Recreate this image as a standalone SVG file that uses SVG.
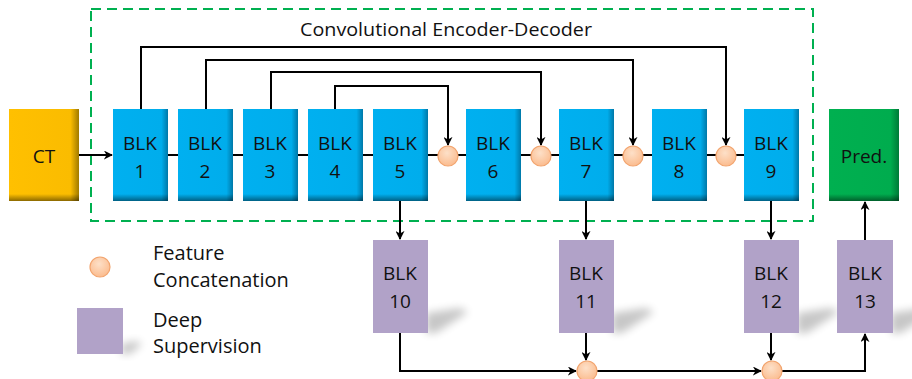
<svg xmlns="http://www.w3.org/2000/svg" width="912" height="379" viewBox="0 0 912 379">
<style>
.t{font-family:"Open Sans","Liberation Sans",sans-serif;font-size:19px;fill:#111;text-anchor:middle}
.lt{font-family:"Open Sans","Liberation Sans",sans-serif;font-size:20px;fill:#111}
.ln{fill:none;stroke:#000;stroke-width:2}
.arr{fill:none;stroke:#000;stroke-width:2;marker-end:url(#ah)}
.blue{fill:url(#gb)}
.purple{fill:#B1A2C8}
.cc{fill:url(#gc);stroke:#F2A46E;stroke-width:1.2}
.edge{fill:url(#ge)}
.sh{fill:#000;opacity:0.22}
</style>
<defs>
<marker id="ah" viewBox="0 0 10 10" refX="9" refY="5" markerWidth="9" markerHeight="9" orient="auto" markerUnits="userSpaceOnUse">
<path d="M0,0 L10,5 L0,10 L3,5 z" fill="#000"/>
</marker>
<linearGradient id="gb" x1="0" y1="0" x2="1" y2="0">
<stop offset="0" stop-color="#00B0F0"/><stop offset="0.88" stop-color="#00ADEC"/><stop offset="1" stop-color="#0078A8"/>
</linearGradient>
<linearGradient id="gg" x1="0" y1="0" x2="1" y2="0">
<stop offset="0" stop-color="#00B050"/><stop offset="0.88" stop-color="#00AC4E"/><stop offset="1" stop-color="#007A38"/>
</linearGradient>
<linearGradient id="go" x1="0" y1="0" x2="1" y2="0">
<stop offset="0" stop-color="#FFC000"/><stop offset="0.88" stop-color="#FABC00"/><stop offset="1" stop-color="#A07A00"/>
</linearGradient>
<linearGradient id="ge" x1="0" y1="0" x2="0" y2="1">
<stop offset="0" stop-color="#000" stop-opacity="0"/><stop offset="1" stop-color="#000" stop-opacity="0.45"/>
</linearGradient>
<radialGradient id="gc" cx="0.45" cy="0.35" r="0.7">
<stop offset="0" stop-color="#FDE0C8"/><stop offset="1" stop-color="#FBB98A"/>
</radialGradient>
<filter id="blur" x="-50%" y="-50%" width="200%" height="200%"><feGaussianBlur stdDeviation="4"/></filter>
</defs>

<g id="encoder-frame">
<rect x="91" y="9" width="722" height="212" fill="none" stroke="#00B050" stroke-width="2" stroke-dasharray="10,6"/>
<text class="t" x="446" y="36" textLength="292" lengthAdjust="spacingAndGlyphs">Convolutional Encoder-Decoder</text>
</g>

<g id="connectors">
<line class="arr" x1="79" y1="155" x2="112" y2="155"/>
<path class="ln" d="M168,155 H178 M233,155 H243 M298,155 H308 M363,155 H373 M428,155 H438 M458,155 H466 M521,155 H531 M551,155 H559 M614,155 H623 M643,155 H652 M707,155 H716 M736,155 H744"/>
<path class="arr" d="M141,109 V47 H726 V145"/>
<path class="arr" d="M206,109 V60 H633 V145"/>
<path class="arr" d="M271,109 V72 H541 V145"/>
<path class="arr" d="M335,109 V86 H448 V145"/>
<line class="arr" x1="400" y1="201" x2="400" y2="239"/>
<line class="arr" x1="586" y1="201" x2="586" y2="239"/>
<line class="arr" x1="771" y1="201" x2="771" y2="239"/>
<path class="arr" d="M400,333 V371 H576"/>
<line class="arr" x1="586" y1="333" x2="586" y2="360"/>
<line class="arr" x1="771" y1="333" x2="771" y2="360"/>
<line class="arr" x1="597" y1="371" x2="761" y2="371"/>
<path class="arr" d="M782,371 H865 V334"/>
<line class="arr" x1="865" y1="240" x2="865" y2="202"/>
</g>

<g id="ct">
<rect x="9" y="109" width="70" height="92" fill="url(#go)"/>
<rect x="9" y="194" width="70" height="7" class="edge"/>
<text class="t" x="44" y="163">CT</text>
</g>

<g id="blk1"><rect class="blue" x="113" y="109" width="55" height="92"/><rect class="edge" x="113" y="194" width="55" height="7"/><text class="t" x="140" y="150">BLK</text><text class="t" x="140" y="178">1</text></g>
<g id="blk2"><rect class="blue" x="178" y="109" width="55" height="92"/><rect class="edge" x="178" y="194" width="55" height="7"/><text class="t" x="205" y="150">BLK</text><text class="t" x="205" y="178">2</text></g>
<g id="blk3"><rect class="blue" x="243" y="109" width="55" height="92"/><rect class="edge" x="243" y="194" width="55" height="7"/><text class="t" x="270" y="150">BLK</text><text class="t" x="270" y="178">3</text></g>
<g id="blk4"><rect class="blue" x="308" y="109" width="55" height="92"/><rect class="edge" x="308" y="194" width="55" height="7"/><text class="t" x="335" y="150">BLK</text><text class="t" x="335" y="178">4</text></g>
<g id="blk5"><rect class="blue" x="373" y="109" width="55" height="92"/><rect class="edge" x="373" y="194" width="55" height="7"/><text class="t" x="400" y="150">BLK</text><text class="t" x="400" y="178">5</text></g>
<g id="blk6"><rect class="blue" x="466" y="109" width="55" height="92"/><rect class="edge" x="466" y="194" width="55" height="7"/><text class="t" x="493" y="150">BLK</text><text class="t" x="493" y="178">6</text></g>
<g id="blk7"><rect class="blue" x="559" y="109" width="55" height="92"/><rect class="edge" x="559" y="194" width="55" height="7"/><text class="t" x="586" y="150">BLK</text><text class="t" x="586" y="178">7</text></g>
<g id="blk8"><rect class="blue" x="652" y="109" width="55" height="92"/><rect class="edge" x="652" y="194" width="55" height="7"/><text class="t" x="679" y="150">BLK</text><text class="t" x="679" y="178">8</text></g>
<g id="blk9"><rect class="blue" x="744" y="109" width="55" height="92"/><rect class="edge" x="744" y="194" width="55" height="7"/><text class="t" x="771" y="150">BLK</text><text class="t" x="771" y="178">9</text></g>

<g id="pred">
<rect x="829" y="109" width="70" height="92" fill="url(#gg)"/>
<rect class="edge" x="829" y="194" width="70" height="7"/>
<text class="t" x="864" y="163">Pred.</text>
</g>

<g id="cat1"><circle class="cc" cx="448" cy="156" r="10"/></g>
<g id="cat2"><circle class="cc" cx="541" cy="156" r="10"/></g>
<g id="cat3"><circle class="cc" cx="633" cy="156" r="10"/></g>
<g id="cat4"><circle class="cc" cx="726" cy="156" r="10"/></g>
<g id="cat5"><circle class="cc" cx="587" cy="371" r="10"/></g>
<g id="cat6"><circle class="cc" cx="772" cy="371" r="10"/></g>

<g id="blk10"><path class="sh" filter="url(#blur)" d="M426,333 L426,313 L460,308 L468,312 L436,333 z"/><rect class="purple" x="373" y="240" width="55" height="93"/><text class="t" x="400" y="280">BLK</text><text class="t" x="400" y="308">10</text></g>
<g id="blk11"><path class="sh" filter="url(#blur)" d="M612,333 L612,313 L646,308 L654,312 L622,333 z"/><rect class="purple" x="559" y="240" width="55" height="93"/><text class="t" x="586" y="280">BLK</text><text class="t" x="586" y="308">11</text></g>
<g id="blk12"><path class="sh" filter="url(#blur)" d="M797,333 L797,313 L831,308 L839,312 L807,333 z"/><rect class="purple" x="744" y="240" width="55" height="93"/><text class="t" x="771" y="280">BLK</text><text class="t" x="771" y="308">12</text></g>
<g id="blk13"><path class="sh" filter="url(#blur)" d="M891,333 L891,313 L925,308 L933,312 L901,333 z"/><rect class="purple" x="837" y="240" width="56" height="93"/><text class="t" x="865" y="280">BLK</text><text class="t" x="865" y="308">13</text></g>

<g id="legend-concat">
<circle class="cc" cx="100" cy="267" r="10"/>
<text class="lt" x="153" y="260">Feature</text>
<text class="lt" x="153" y="287">Concatenation</text>
</g>
<g id="legend-deep">
<path class="sh" filter="url(#blur)" d="M121,354 L121,344 L136,341 L142,344 L130,354 z"/>
<rect class="purple" x="77" y="308" width="46" height="46"/>
<text class="lt" x="153" y="327">Deep</text>
<text class="lt" x="153" y="353">Supervision</text>
</g>
</svg>
